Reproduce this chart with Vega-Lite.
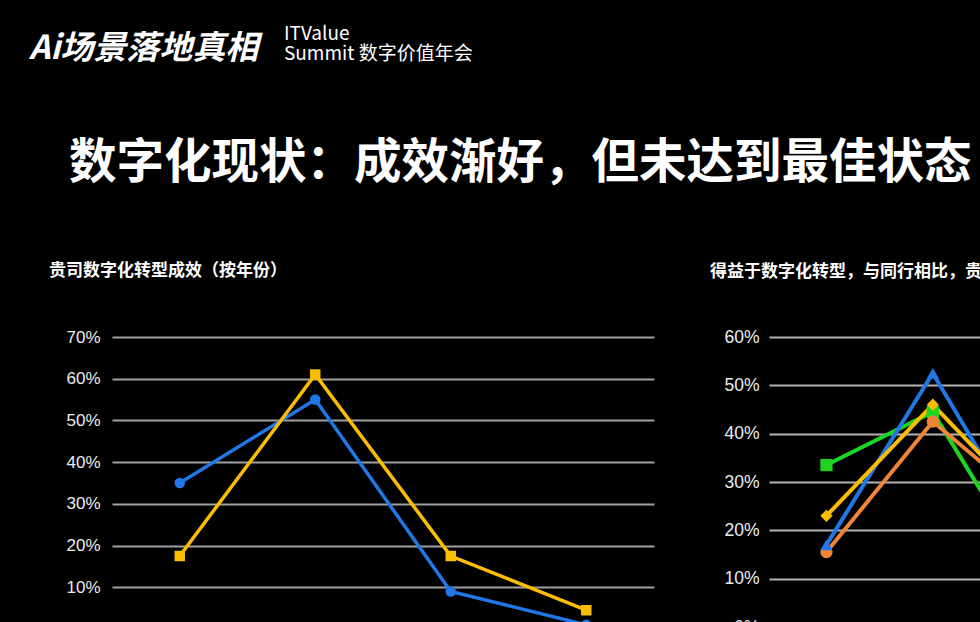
{
  "$schema": "https://vega.github.io/schema/vega-lite/v6.json",
  "background": "#000000",
  "padding": {"left": 28, "top": 25, "right": 0, "bottom": 0},
  "config": {
    "view": {"stroke": null},
    "font": "Noto Sans CJK SC",
    "title": {"color": "#ffffff", "anchor": "start", "baseline": "top", "font": "Noto Sans CJK SC"},
    "axis": {"labelFont": "Liberation Sans", "labelColor": "#ececec", "ticks": false, "domain": false, "title": null}
  },
  "title": {"text": "Ai场景落地真相", "fontSize": 33, "fontStyle": "italic", "fontWeight": "bold", "dx": -20, "offset": -41},
  "vconcat": [
    {
      "title": {"text": ["ITValue", "Summit 数字价值年会"], "fontSize": 19, "lineHeight": 20, "fontWeight": "normal", "dx": 235, "offset": 76},
      "vconcat": [
        {
          "title": {"text": "数字化现状：成效渐好，但未达到最佳状态", "fontSize": 47.5, "fontWeight": "bold", "dx": 20, "offset": 74.5},
          "spacing": 55,
          "resolve": {"scale": {"color": "independent", "shape": "independent", "x": "independent", "y": "independent"}},
          "hconcat": [
            {
              "title": {"text": "贵司数字化转型成效（按年份）", "fontSize": 17, "fontWeight": "bold", "dx": -17, "offset": 48},
              "width": 542,
              "height": 292,
              "data": {"values": [
                {"category": "超出预期", "series": "2024年", "value": 0.35},
                {"category": "符合预期", "series": "2024年", "value": 0.55},
                {"category": "低于预期", "series": "2024年", "value": 0.09},
                {"category": "尚未看到成效", "series": "2024年", "value": 0.01},
                {"category": "超出预期", "series": "2023年", "value": 0.175},
                {"category": "符合预期", "series": "2023年", "value": 0.61},
                {"category": "低于预期", "series": "2023年", "value": 0.175},
                {"category": "尚未看到成效", "series": "2023年", "value": 0.045}
              ]},
              "encoding": {
                "x": {"field": "category", "type": "nominal", "sort": null,
                  "scale": {"type": "point", "padding": 0.5, "align": 0.5},
                  "axis": {"labelAngle": 0, "labelFontSize": 15, "grid": false}},
                "y": {"field": "value", "type": "quantitative",
                  "scale": {"domain": [0, 0.7]},
                  "axis": {"format": ".0%", "values": [0, 0.1, 0.2, 0.3, 0.4, 0.5, 0.6, 0.7], "labelFontSize": 17, "labelPadding": 12, "gridColor": "#a0a0a0", "gridWidth": 1.8}},
                "color": {"field": "series", "type": "nominal",
                  "scale": {"domain": ["2024年", "2023年"], "range": ["#1f78e6", "#fbbd00"]},
                  "legend": null}
              },
              "layer": [
                {"mark": {"type": "line", "strokeWidth": 3.5}},
                {"mark": {"type": "point", "filled": true, "opacity": 1, "size": 110},
                  "encoding": {"shape": {"field": "series", "type": "nominal", "scale": {"domain": ["2024年", "2023年"], "range": ["circle", "square"]}, "legend": null}}}
              ]
            },
            {
              "title": {"text": "得益于数字化转型，与同行相比，贵司的业务表现如何", "fontSize": 17, "fontWeight": "bold", "dx": -14, "offset": 47},
              "width": 434,
              "height": 290,
              "data": {"values": [
                {"category": "显著领先", "series": "初创企业", "value": 0.335},
                {"category": "略有领先", "series": "初创企业", "value": 0.445},
                {"category": "基本持平", "series": "初创企业", "value": 0.085},
                {"category": "有所落后", "series": "初创企业", "value": 0.135},
                {"category": "显著领先", "series": "中型企业", "value": 0.155},
                {"category": "略有领先", "series": "中型企业", "value": 0.425},
                {"category": "基本持平", "series": "中型企业", "value": 0.24},
                {"category": "有所落后", "series": "中型企业", "value": 0.18},
                {"category": "显著领先", "series": "大型企业", "value": 0.17},
                {"category": "略有领先", "series": "大型企业", "value": 0.525},
                {"category": "基本持平", "series": "大型企业", "value": 0.155},
                {"category": "有所落后", "series": "大型企业", "value": 0.15},
                {"category": "显著领先", "series": "小型企业", "value": 0.23},
                {"category": "略有领先", "series": "小型企业", "value": 0.46},
                {"category": "基本持平", "series": "小型企业", "value": 0.23},
                {"category": "有所落后", "series": "小型企业", "value": 0.08}
              ]},
              "encoding": {
                "x": {"field": "category", "type": "nominal", "sort": null,
                  "scale": {"type": "point", "padding": 0.54, "align": 0.5},
                  "axis": {"labelAngle": 0, "labelFontSize": 15, "grid": false}},
                "y": {"field": "value", "type": "quantitative",
                  "scale": {"domain": [0, 0.6]},
                  "axis": {"format": ".0%", "values": [0, 0.1, 0.2, 0.3, 0.4, 0.5, 0.6], "labelFontSize": 17.5, "labelPadding": 10, "gridColor": "#b4b4b4", "gridWidth": 1.8}},
                "color": {"field": "series", "type": "nominal",
                  "scale": {"domain": ["初创企业", "中型企业", "大型企业", "小型企业"], "range": ["#1fd41f", "#f08537", "#1f78e6", "#fbbd00"]},
                  "legend": null}
              },
              "layer": [
                {"mark": {"type": "line", "strokeWidth": 4}},
                {"mark": {"type": "point", "filled": true, "opacity": 1, "size": 150},
                  "encoding": {"shape": {"field": "series", "type": "nominal", "scale": {"domain": ["初创企业", "中型企业", "大型企业", "小型企业"], "range": ["square", "circle", "triangle-up", "diamond"]}, "legend": null}}}
              ]
            }
          ]
        }
      ]
    }
  ]
}
